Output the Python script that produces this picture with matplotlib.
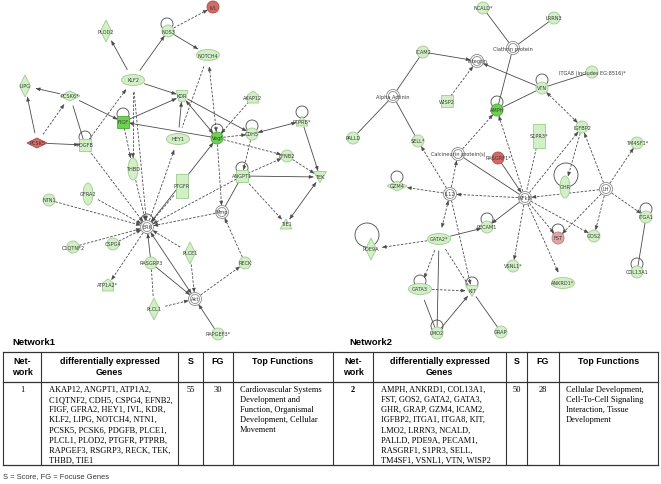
import matplotlib
matplotlib.use("Agg")
import matplotlib.pyplot as plt
from matplotlib.patches import Circle, Ellipse, Rectangle, Polygon
import numpy as np

# ---- network 1 nodes: name, x, y, shape, colour ----
n1_names = ["IVL", "NOS3", "PLOD2", "NOTCH4", "KLF2", "LIPG", "PCSK6*", "KDR", "AKAP12",
            "PTPRB*", "FIGF", "CDH5", "HEY1", "Vegf", "PCSK5", "PDGFB", "EFNB2",
            "THBD", "PTGFR", "ANGPT1", "TEK", "NTN1", "GFRA2", "Mmp", "TIE1", "ERK",
            "C1QTNF2", "CSPG4", "PLCE1", "RASGRP3", "RECK", "ATP1A2*", "Akt", "PLCL1", "RAPGEF3*"]
n1_x = [213, 168, 106, 208, 133, 25, 70, 182, 253, 302, 123, 252, 178, 217, 37, 85, 287,
        133, 182, 242, 320, 49, 88, 222, 286, 147, 73, 113, 190, 151, 245, 108, 195, 154, 218]
n1_y = [8, 32, 32, 56, 81, 87, 97, 97, 98, 122, 123, 135, 140, 139, 144, 146, 157,
        170, 187, 177, 178, 201, 195, 213, 225, 228, 248, 245, 254, 264, 264, 286, 300, 310, 335]
n1_shape = ["circle", "circle", "vdiamond", "ellipse", "ellipse", "vdiamond", "hdiamond", "trap", "house",
            "triangle", "square", "circle", "ellipse", "circle", "hdiamond", "square", "circle",
            "vellipse", "vrect", "square", "itriangle", "circle", "vellipse", "hub", "triangle", "hub",
            "circle", "circle", "vdiamond", "circle", "circle", "house", "hub", "vdiamond", "circle"]
n1_col = ["red", "g", "g", "g", "g", "g", "g", "g", "g", "g", "dg", "g", "g", "dg", "red", "g", "g",
          "g", "g", "g", "g", "g", "g", "w", "g", "w", "g", "g", "g", "g", "g", "g", "w", "g", "g"]

# edges: source, target, dashed, arrow at target, arrow at source
n1_edges = [
    ("NOS3", "IVL", 1, 1, 0), ("NOS3", "NOTCH4", 0, 1, 0), ("KLF2", "PLOD2", 0, 1, 0),
    ("KLF2", "NOS3", 0, 1, 0), ("KLF2", "KDR", 0, 1, 0), ("KLF2", "THBD", 1, 1, 0),
    ("PDGFB", "KLF2", 1, 1, 0), ("PCSK6*", "LIPG", 0, 1, 0), ("PCSK5", "LIPG", 0, 1, 0),
    ("PCSK5", "PCSK6*", 1, 1, 0), ("PCSK5", "PDGFB", 0, 1, 0), ("PCSK6*", "PDGFB", 0, 0, 0),
    ("PCSK6*", "FIGF", 0, 1, 0), ("FIGF", "KDR", 0, 1, 0), ("FIGF", "THBD", 1, 1, 0),
    ("KDR", "Vegf", 0, 1, 1), ("Vegf", "FIGF", 0, 1, 0), ("HEY1", "KDR", 0, 1, 0),
    ("NOTCH4", "HEY1", 1, 0, 0), ("NOTCH4", "Vegf", 1, 1, 1), ("KDR", "CDH5", 0, 1, 0),
    ("AKAP12", "Vegf", 1, 1, 0), ("Vegf", "CDH5", 1, 1, 0), ("CDH5", "PTPRB*", 0, 1, 1),
    ("PTPRB*", "TEK", 0, 1, 0), ("Vegf", "EFNB2", 1, 1, 0), ("EFNB2", "TEK", 1, 1, 0),
    ("ANGPT1", "EFNB2", 1, 1, 0), ("ANGPT1", "TEK", 0, 1, 0), ("ANGPT1", "TIE1", 1, 1, 0),
    ("TEK", "TIE1", 0, 1, 1), ("CDH5", "ANGPT1", 1, 1, 0), ("Vegf", "Mmp", 1, 1, 0),
    ("ERK", "Vegf", 0, 1, 1), ("PTGFR", "ERK", 1, 1, 0), ("ANGPT1", "Mmp", 0, 0, 0),
    ("ANGPT1", "ERK", 1, 1, 0), ("Mmp", "ERK", 1, 1, 0), ("ERK", "HEY1", 1, 1, 0),
    ("THBD", "ERK", 1, 1, 0), ("KLF2", "ERK", 1, 1, 0), ("PDGFB", "ERK", 1, 1, 0),
    ("NTN1", "ERK", 1, 1, 0), ("GFRA2", "ERK", 1, 1, 0), ("C1QTNF2", "ERK", 1, 1, 0),
    ("CSPG4", "ERK", 1, 1, 0), ("ERK", "ATP1A2*", 1, 1, 0), ("RASGRP3", "ERK", 0, 1, 0),
    ("PLCE1", "ERK", 1, 1, 0), ("ERK", "Akt", 0, 1, 1), ("RASGRP3", "Akt", 0, 1, 0),
    ("RASGRP3", "PLCL1", 1, 0, 0), ("PLCL1", "Akt", 1, 1, 0), ("PLCE1", "Akt", 1, 1, 0),
    ("Akt", "RECK", 1, 1, 0), ("RECK", "Mmp", 1, 1, 0), ("RAPGEF3*", "Akt", 0, 1, 0),
]
n1_loops = [("NOS3", -1, -7, 6), ("FIGF", 0, -8, 6), ("PTPRB*", 0, -9, 6), ("CDH5", 0, -8, 6),
            ("Vegf", 0, -8, 6), ("PDGFB", 0, -8, 6), ("ANGPT1", 0, -8, 6), ("ERK", 0, -7, 6)]

# ---- network 2 nodes ----
n2_names = ["NCALD*", "LRRN3", "Clathrin protein", "ICAM2", "Integrin", "ITGA8 (includes EG:8516)*",
            "VTN", "Alpha Actinin", "WISP2", "AMPH", "IGFBP2", "S1PR3*", "PALLD", "SELL*", "TM4SF1*",
            "Calcineurin protein(s)", "RASGRF1*", "GZM4", "IL12", "NFkB", "GHR", "LH", "ITGA1",
            "PECAM1", "GATA2*", "PDE9A", "FST", "GOS2", "VSNL1*", "COL13A1", "ANKRD1*", "GATA3",
            "KIT", "LMO2", "GRAP"]
n2_x = [483, 554, 513, 423, 477, 592, 542, 393, 447, 497, 582, 539, 353, 418, 637, 458, 498,
        397, 450, 525, 565, 606, 646, 487, 439, 371, 558, 594, 513, 637, 563, 420, 472, 437, 501]
n2_y = [9, 19, 49, 53, 62, 73, 89, 97, 102, 111, 128, 137, 139, 142, 144, 155, 159,
        187, 195, 199, 188, 190, 218, 228, 240, 250, 239, 237, 267, 273, 284, 290, 292, 334, 333]
n2_shape = ["circle", "circle", "hub", "circle", "hub", "circle", "circle", "hub", "square", "circle",
            "circle", "vrect", "circle", "circle", "circle", "hub", "circle", "hdiamond", "hub", "hub",
            "vellipse", "hub", "circle", "circle", "ellipse", "vdiamond", "circle", "circle", "circle",
            "circle", "ellipse", "ellipse", "itriangle", "circle", "circle"]
n2_col = ["g", "g", "w", "g", "w", "g", "g", "w", "g", "dg", "g", "g", "g", "g", "g", "w", "red",
          "g", "w", "w", "g", "w", "g", "g", "g", "g", "pink", "g", "g", "g", "g", "g", "g", "g", "g"]

n2_edges = [
    ("NCALD*", "Clathrin protein", 0, 0, 0), ("LRRN3", "Clathrin protein", 0, 0, 0),
    ("Clathrin protein", "AMPH", 0, 0, 0), ("ICAM2", "Integrin", 0, 1, 0),
    ("ICAM2", "Alpha Actinin", 0, 0, 0), ("Alpha Actinin", "PALLD", 0, 0, 0),
    ("Alpha Actinin", "SELL*", 0, 0, 0), ("WISP2", "Integrin", 1, 1, 0), ("VTN", "Integrin", 0, 1, 0),
    ("VTN", "ITGA8 (includes EG:8516)*", 0, 0, 0), ("AMPH", "VTN", 0, 0, 0),
    ("VTN", "IGFBP2", 1, 1, 1), ("Calcineurin protein(s)", "AMPH", 1, 1, 0),
    ("NFkB", "AMPH", 1, 1, 0), ("RASGRF1*", "NFkB", 0, 1, 0), ("Calcineurin protein(s)", "NFkB", 0, 0, 0),
    ("IL12", "Calcineurin protein(s)", 1, 1, 0), ("IL12", "SELL*", 1, 1, 0), ("NFkB", "IL12", 1, 1, 0),
    ("IL12", "GZM4", 1, 1, 0), ("IL12", "GATA2*", 1, 1, 1), ("IL12", "KIT", 1, 1, 0),
    ("S1PR3*", "NFkB", 1, 0, 0), ("NFkB", "IGFBP2", 1, 1, 0), ("LH", "IGFBP2", 1, 1, 0),
    ("IGFBP2", "GHR", 1, 1, 0), ("LH", "NFkB", 1, 1, 0), ("LH", "TM4SF1*", 1, 1, 0),
    ("LH", "ITGA1", 1, 1, 0), ("LH", "GOS2", 1, 1, 0), ("LH", "FST", 1, 1, 0),
    ("NFkB", "FST", 1, 1, 0), ("NFkB", "GOS2", 1, 1, 0), ("NFkB", "VSNL1*", 1, 1, 0),
    ("NFkB", "ANKRD1*", 1, 1, 0), ("NFkB", "PECAM1", 0, 1, 0), ("GATA2*", "PECAM1", 0, 1, 0),
    ("GATA2*", "PDE9A", 1, 1, 0), ("GATA2*", "GATA3", 1, 1, 0), ("GATA2*", "LMO2", 0, 0, 0),
    ("GATA2*", "KIT", 1, 0, 0), ("GATA3", "KIT", 1, 1, 0), ("GATA3", "LMO2", 0, 0, 0),
    ("LMO2", "KIT", 0, 1, 0), ("KIT", "GRAP", 0, 0, 0), ("ITGA1", "COL13A1", 0, 0, 0),
]
n2_loops = [("VTN", 0, -8, 6), ("AMPH", 0, -8, 6), ("GZM4", 0, -9, 6), ("GHR", 1, -12, 12),
            ("ITGA1", 0, -8, 6), ("PECAM1", 0, -8, 6), ("PDE9A", -4, -14, 12), ("FST", 0, -8, 6),
            ("GATA3", 0, -8, 6), ("KIT", 0, -8, 6), ("LMO2", 0, -7, 6), ("COL13A1", 0, -8, 6)]

# ---- table ----
headers = ["Net-\nwork", "differentially expressed\nGenes", "S", "FG", "Top Functions"]
net_ids = ["1", "2"]
scores = ["55", "50"]
focus_genes = ["30", "28"]
genes1 = ["AKAP12, ANGPT1, ATP1A2,", "C1QTNF2, CDH5, CSPG4, EFNB2,", "FIGF, GFRA2, HEY1, IVL, KDR,",
          "KLF2, LIPG, NOTCH4, NTN1,", "PCSK5, PCSK6, PDGFB, PLCE1,", "PLCL1, PLOD2, PTGFR, PTPRB,",
          "RAPGEF3, RSGRP3, RECK, TEK,", "THBD, TIE1"]
genes2 = ["AMPH, ANKRD1, COL13A1,", "FST, GOS2, GATA2, GATA3,", "GHR, GRAP, GZM4, ICAM2,",
          "IGFBP2, ITGA1, ITGA8, KIT,", "LMO2, LRRN3, NCALD,", "PALLD, PDE9A, PECAM1,",
          "RASGRF1, S1PR3, SELL,", "TM4SF1, VSNL1, VTN, WISP2"]
func1 = ["Cardiovascular Systems", "Development and", "Function, Organismal",
         "Development, Cellular", "Movement"]
func2 = ["Cellular Development,", "Cell-To-Cell Signaling", "Interaction, Tissue", "Development"]

fills = {"g": "#d3efc8", "dg": "#6cd350", "red": "#d46a64", "pink": "#e2a3a3", "w": "white"}
edges_c = {"g": "#9fcc8e", "dg": "#4aa837", "red": "#b04a45", "pink": "#c07e7e", "w": "#8a8a8a"}
LINE = "#4a4a4a"

fig = plt.figure(figsize=(6.61, 4.85), dpi=100)
ax = fig.add_axes([0, 0, 1, 1])
ax.set_xlim(0, 661)
ax.set_ylim(485, 0)
ax.set_aspect("equal")
ax.axis("off")


def node_size(shape):
    return {"circle": (12, 12), "ellipse": (23, 11), "vellipse": (10, 22), "vdiamond": (11, 22),
            "hdiamond": (20, 10), "square": (12, 12), "vrect": (12, 24), "trap": (12, 11),
            "itriangle": (13, 11), "triangle": (12, 10), "house": (11, 12), "hub": (13, 13)}[shape]


def draw_node(x, y, shape, col, label):
    w, h = node_size(shape)
    fc, ec = fills[col], edges_c[col]
    kw = dict(fc=fc, ec=ec, lw=0.6, zorder=3)
    if shape in ("circle",):
        p = Circle((x, y), w / 2, **kw)
    elif shape in ("ellipse", "vellipse"):
        p = Ellipse((x, y), w, h, **kw)
    elif shape in ("square", "vrect"):
        p = Rectangle((x - w / 2, y - h / 2), w, h, **kw)
    elif shape in ("vdiamond", "hdiamond"):
        p = Polygon([(x, y - h / 2), (x + w / 2, y), (x, y + h / 2), (x - w / 2, y)], **kw)
    elif shape == "trap":
        p = Polygon([(x - w / 2, y - h / 2), (x + w / 2, y - h / 2), (x + w / 4, y + h / 2),
                     (x - w / 4, y + h / 2)], **kw)
    elif shape == "itriangle":
        p = Polygon([(x - w / 2, y - h / 2), (x + w / 2, y - h / 2), (x, y + h / 2)], **kw)
    elif shape == "triangle":
        p = Polygon([(x - w / 2, y + h / 2), (x + w / 2, y + h / 2), (x, y - h / 2)], **kw)
    elif shape == "house":
        p = Polygon([(x - w / 2, y + h / 2), (x + w / 2, y + h / 2), (x + w / 2, y - h / 6),
                     (x, y - h / 2), (x - w / 2, y - h / 6)], **kw)
    else:  # hub: double circle
        ax.add_patch(Circle((x, y), w / 2, fc="white", ec=ec, lw=0.6, zorder=3))
        p = Circle((x, y), w / 2 - 2, fc="white", ec=ec, lw=0.6, zorder=3)
    ax.add_patch(p)
    ax.text(x, y, label, fontsize=3.6, color="#3a3a3a", ha="center", va="center", zorder=4)


def arrow_head(tip, direction):
    d = direction / np.linalg.norm(direction)
    n = np.array([-d[1], d[0]])
    base = tip - d * 4.0
    ax.add_patch(Polygon([tip, base + n * 1.6, base - n * 1.6], fc=LINE, ec=LINE, lw=0.3, zorder=2))


def draw_edge(p, q, rp, rq, dashed, head_q, head_p):
    p, q = np.array(p, float), np.array(q, float)
    d = q - p
    L = np.linalg.norm(d)
    u = d / L
    a = p + u * rp
    b = q - u * rq
    ls = (0, (3, 1.8)) if dashed else "-"
    ax.plot([a[0], b[0]], [a[1], b[1]], color=LINE, lw=0.6, linestyle=ls, zorder=1)
    if head_q:
        arrow_head(b, u)
    if head_p:
        arrow_head(a, -u)


def draw_network(names, xs, ys, shapes, cols, edges, loops):
    idx = {n: i for i, n in enumerate(names)}
    for s, t, dashed, hq, hp in edges:
        i, j = idx[s], idx[t]
        ri = max(node_size(shapes[i])) / 2 + 0.5
        rj = max(node_size(shapes[j])) / 2 + 0.5
        draw_edge((xs[i], ys[i]), (xs[j], ys[j]), ri, rj, dashed, hq, hp)
    for n, dx, dy, r in loops:
        i = idx[n]
        ax.add_patch(Circle((xs[i] + dx, ys[i] + dy), r, fc="none", ec=LINE, lw=0.6, zorder=1))
    for i, n in enumerate(names):
        draw_node(xs[i], ys[i], shapes[i], cols[i], n)


draw_network(n1_names, n1_x, n1_y, n1_shape, n1_col, n1_edges, n1_loops)
draw_network(n2_names, n2_x, n2_y, n2_shape, n2_col, n2_edges, n2_loops)

# section titles
ax.text(12, 343, "Network1", fontsize=6.8, fontweight="bold", family="Liberation Sans", va="center")
ax.text(349, 343, "Network2", fontsize=6.8, fontweight="bold", family="Liberation Sans", va="center")

# table grid
top, mid, bot = 353, 383, 466
cols_x = [3, 41, 178, 203, 233, 333, 373, 506, 527, 559, 658]
for x in cols_x:
    ax.plot([x, x], [top, bot], color="#333333", lw=0.8)
for y in (top, mid, bot):
    ax.plot([cols_x[0], cols_x[-1]], [y, y], color="#333333", lw=0.9)

hfont = dict(fontsize=6.4, fontweight="bold", family="Liberation Sans", ha="center", va="top",
             linespacing=1.25)
bfont = dict(fontsize=6.0, family="Liberation Serif", va="top")
line_h = 10.1

for k, x0 in enumerate((0, 5)):
    for c, h in enumerate(headers):
        cx = (cols_x[x0 + c] + cols_x[x0 + c + 1]) / 2
        ax.text(cx, 357, h, **hfont)
    genes = genes1 if k == 0 else genes2
    funcs = func1 if k == 0 else func2
    ax.text((cols_x[x0] + cols_x[x0 + 1]) / 2, 386, net_ids[k], ha="center",
            fontweight="bold" if k == 1 else "normal", **bfont)
    ax.text((cols_x[x0 + 2] + cols_x[x0 + 3]) / 2, 386, scores[k], ha="center", **bfont)
    ax.text((cols_x[x0 + 3] + cols_x[x0 + 4]) / 2, 386, focus_genes[k], ha="center", **bfont)
    for i, g in enumerate(genes):
        ax.text(cols_x[x0 + 1] + 8, 386 + i * line_h, g, ha="left", **bfont)
    for i, f in enumerate(funcs):
        ax.text(cols_x[x0 + 4] + 7, 386 + i * line_h, f, ha="left", **bfont)

ax.text(3, 477, "S = Score, FG = Focuse Genes", fontsize=5.4, family="Liberation Sans",
        va="center", color="#333333")

fig.savefig("out.png", dpi=100)
